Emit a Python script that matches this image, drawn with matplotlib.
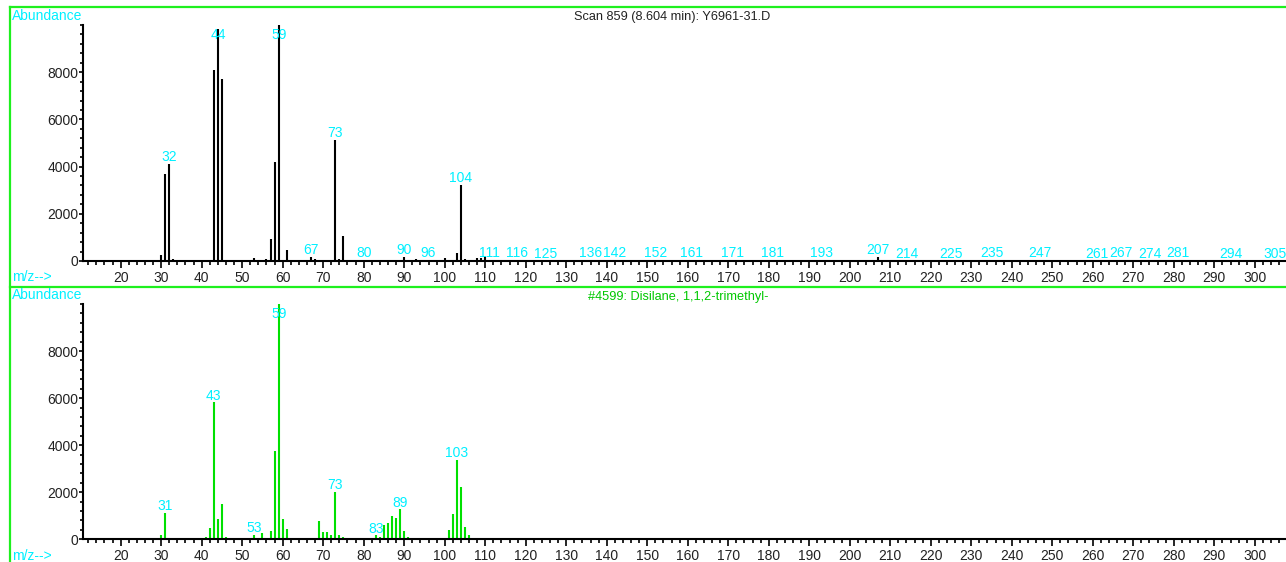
import matplotlib
matplotlib.use("Agg")
import matplotlib.pyplot as plt
from matplotlib.lines import Line2D
from matplotlib.ticker import MultipleLocator, FixedLocator

plt.rcParams['font.family'] = ['Liberation Sans', 'DejaVu Sans']

# ---- Scan 859 (8.604 min): Y6961-31.D ----
scan_mz = [30, 31, 32, 33, 43, 44, 45, 53, 56, 57, 58, 59, 61, 67, 68, 73, 74, 75,
           80, 90, 93, 96, 100, 103, 104, 105, 108, 109, 110, 111, 116, 125, 136,
           142, 152, 161, 171, 181, 193, 207, 214, 225, 235, 247, 261, 267, 274,
           281, 294, 305]
scan_abund = [250, 3690, 4130, 100, 8085, 9830, 7700, 110, 100, 920, 4200, 10000, 470,
              180, 100, 5135, 100, 1060, 60, 180, 100, 60, 110, 330, 3234, 100, 115,
              115, 180, 60, 60, 30, 60, 40, 60, 60, 60, 40, 60, 180, 15, 15, 60, 60,
              15, 60, 15, 60, 15, 15]
scan_labels = [32, 44, 59, 67, 73, 80, 90, 96, 104, 111, 116, 125, 136, 142, 152,
               161, 171, 181, 193, 207, 214, 225, 235, 247, 261, 267, 274, 281, 294, 305]

# ---- Library hit #4599: Disilane, 1,1,2-trimethyl- ----
lib_mz = [30, 31, 41, 42, 43, 44, 45, 46, 53, 55, 57, 58, 59, 60, 61, 69, 70, 71, 72,
          73, 74, 75, 83, 84, 85, 86, 87, 88, 89, 90, 91, 101, 102, 103, 104, 105, 106]
lib_abund = [170, 1130, 110, 480, 5815, 850, 1490, 110, 180, 250, 340, 3770, 10000, 850,
             425, 765, 325, 325, 180, 2010, 170, 90, 170, 100, 610, 680, 990, 920, 1275,
             340, 100, 395, 1060, 3375, 2210, 535, 180]
lib_labels = [31, 43, 53, 59, 73, 83, 89, 103]

scan_title = "Scan 859 (8.604 min): Y6961-31.D"
lib_title = "#4599: Disilane, 1,1,2-trimethyl-"
y_ticks = [0, 2000, 4000, 6000, 8000]
x_ticks = list(range(20, 301, 10))

FRAME_GREEN = '#1EF01E'
LABEL_CYAN = '#00F0FF'
PEAK_GREEN = '#00E000'
TEXT_DARK = '#222222'

W, H = 1286, 562
fig = plt.figure(figsize=(W / 100, H / 100), dpi=100)

def fy(py):
    return 1 - py / H

ax_left = 83 / W
ax_top = fig.add_axes([ax_left, fy(261), 1 - ax_left, fy(25) - fy(261)])
ax_bot = fig.add_axes([ax_left, fy(539.3), 1 - ax_left, fy(304) - fy(539.3)])

renderer = fig.canvas.get_renderer()


def draw_spectrum(ax, mz, abund, labels, color):
    ax.vlines(mz, 0, abund, colors=color, linewidth=1.5)
    ax.set_xlim(10.7, 307.7)
    ax.set_ylim(0, 10000)
    for s in ('top', 'right'):
        ax.spines[s].set_visible(False)
    for s in ('left', 'bottom'):
        ax.spines[s].set_linewidth(1.5)
        ax.spines[s].set_color('black')
    ax.xaxis.set_major_locator(FixedLocator(x_ticks))
    ax.xaxis.set_minor_locator(MultipleLocator(2))
    ax.yaxis.set_major_locator(FixedLocator(y_ticks))
    ax.yaxis.set_minor_locator(MultipleLocator(400))
    ax.tick_params(axis='x', which='major', length=5, width=1.2, pad=2.0,
                   labelsize=10, labelcolor=TEXT_DARK)
    ax.tick_params(axis='x', which='minor', length=3.2, width=1.2)
    ax.tick_params(axis='y', which='major', length=3, width=1.2, pad=0.5,
                   labelsize=10, labelcolor=TEXT_DARK)
    ax.tick_params(axis='y', which='minor', length=2, width=1.2)
    ax.set_facecolor('none')

    # peak labels just above each labelled peak, kept below the plot top
    lookup = dict(zip(mz, abund))
    texts = []
    for m in labels:
        v = lookup[m]
        y = min(v + 110, 9400)
        t = ax.text(m, y, str(m), color=LABEL_CYAN, fontsize=10,
                    ha='center', va='baseline', clip_on=False)
        texts.append(t)
    # nudge labels that would run into their left neighbour
    prev_right = None
    for t in texts:
        bb = t.get_window_extent(renderer)
        if prev_right is not None and bb.x0 < prev_right:
            shift = prev_right + 6 - bb.x0
            x_disp, y_disp = ax.transData.transform(t.get_position())
            new_x = ax.transData.inverted().transform((x_disp + shift, y_disp))[0]
            t.set_x(new_x)
            bb = t.get_window_extent(renderer)
        prev_right = bb.x1


draw_spectrum(ax_top, scan_mz, scan_abund, scan_labels, 'black')
draw_spectrum(ax_bot, lib_mz, lib_abund, lib_labels, PEAK_GREEN)

# panel frame lines
fig.add_artist(Line2D([10 / W, 1], [fy(7), fy(7)], color=FRAME_GREEN, lw=1.6))
fig.add_artist(Line2D([10 / W, 1], [fy(287), fy(287)], color=FRAME_GREEN, lw=1.6))
fig.add_artist(Line2D([10 / W, 10 / W], [fy(7), 0], color=FRAME_GREEN, lw=1.6))

# panel captions
for top_y, bot_y in ((16.5, 277), (295, 556)):
    fig.text(12 / W, fy(top_y), "Abundance", color=LABEL_CYAN, fontsize=10,
             ha='left', va='center')
    fig.text(12 / W, fy(bot_y), "m/z-->", color=LABEL_CYAN, fontsize=10,
             ha='left', va='center')

fig.text(672 / W, fy(17), scan_title, color=TEXT_DARK, fontsize=9.2,
         ha='center', va='center')
fig.text(678 / W, fy(297), lib_title, color='#00C800', fontsize=9.2,
         ha='center', va='center')

fig.savefig('out.png', dpi=100, facecolor='white')
